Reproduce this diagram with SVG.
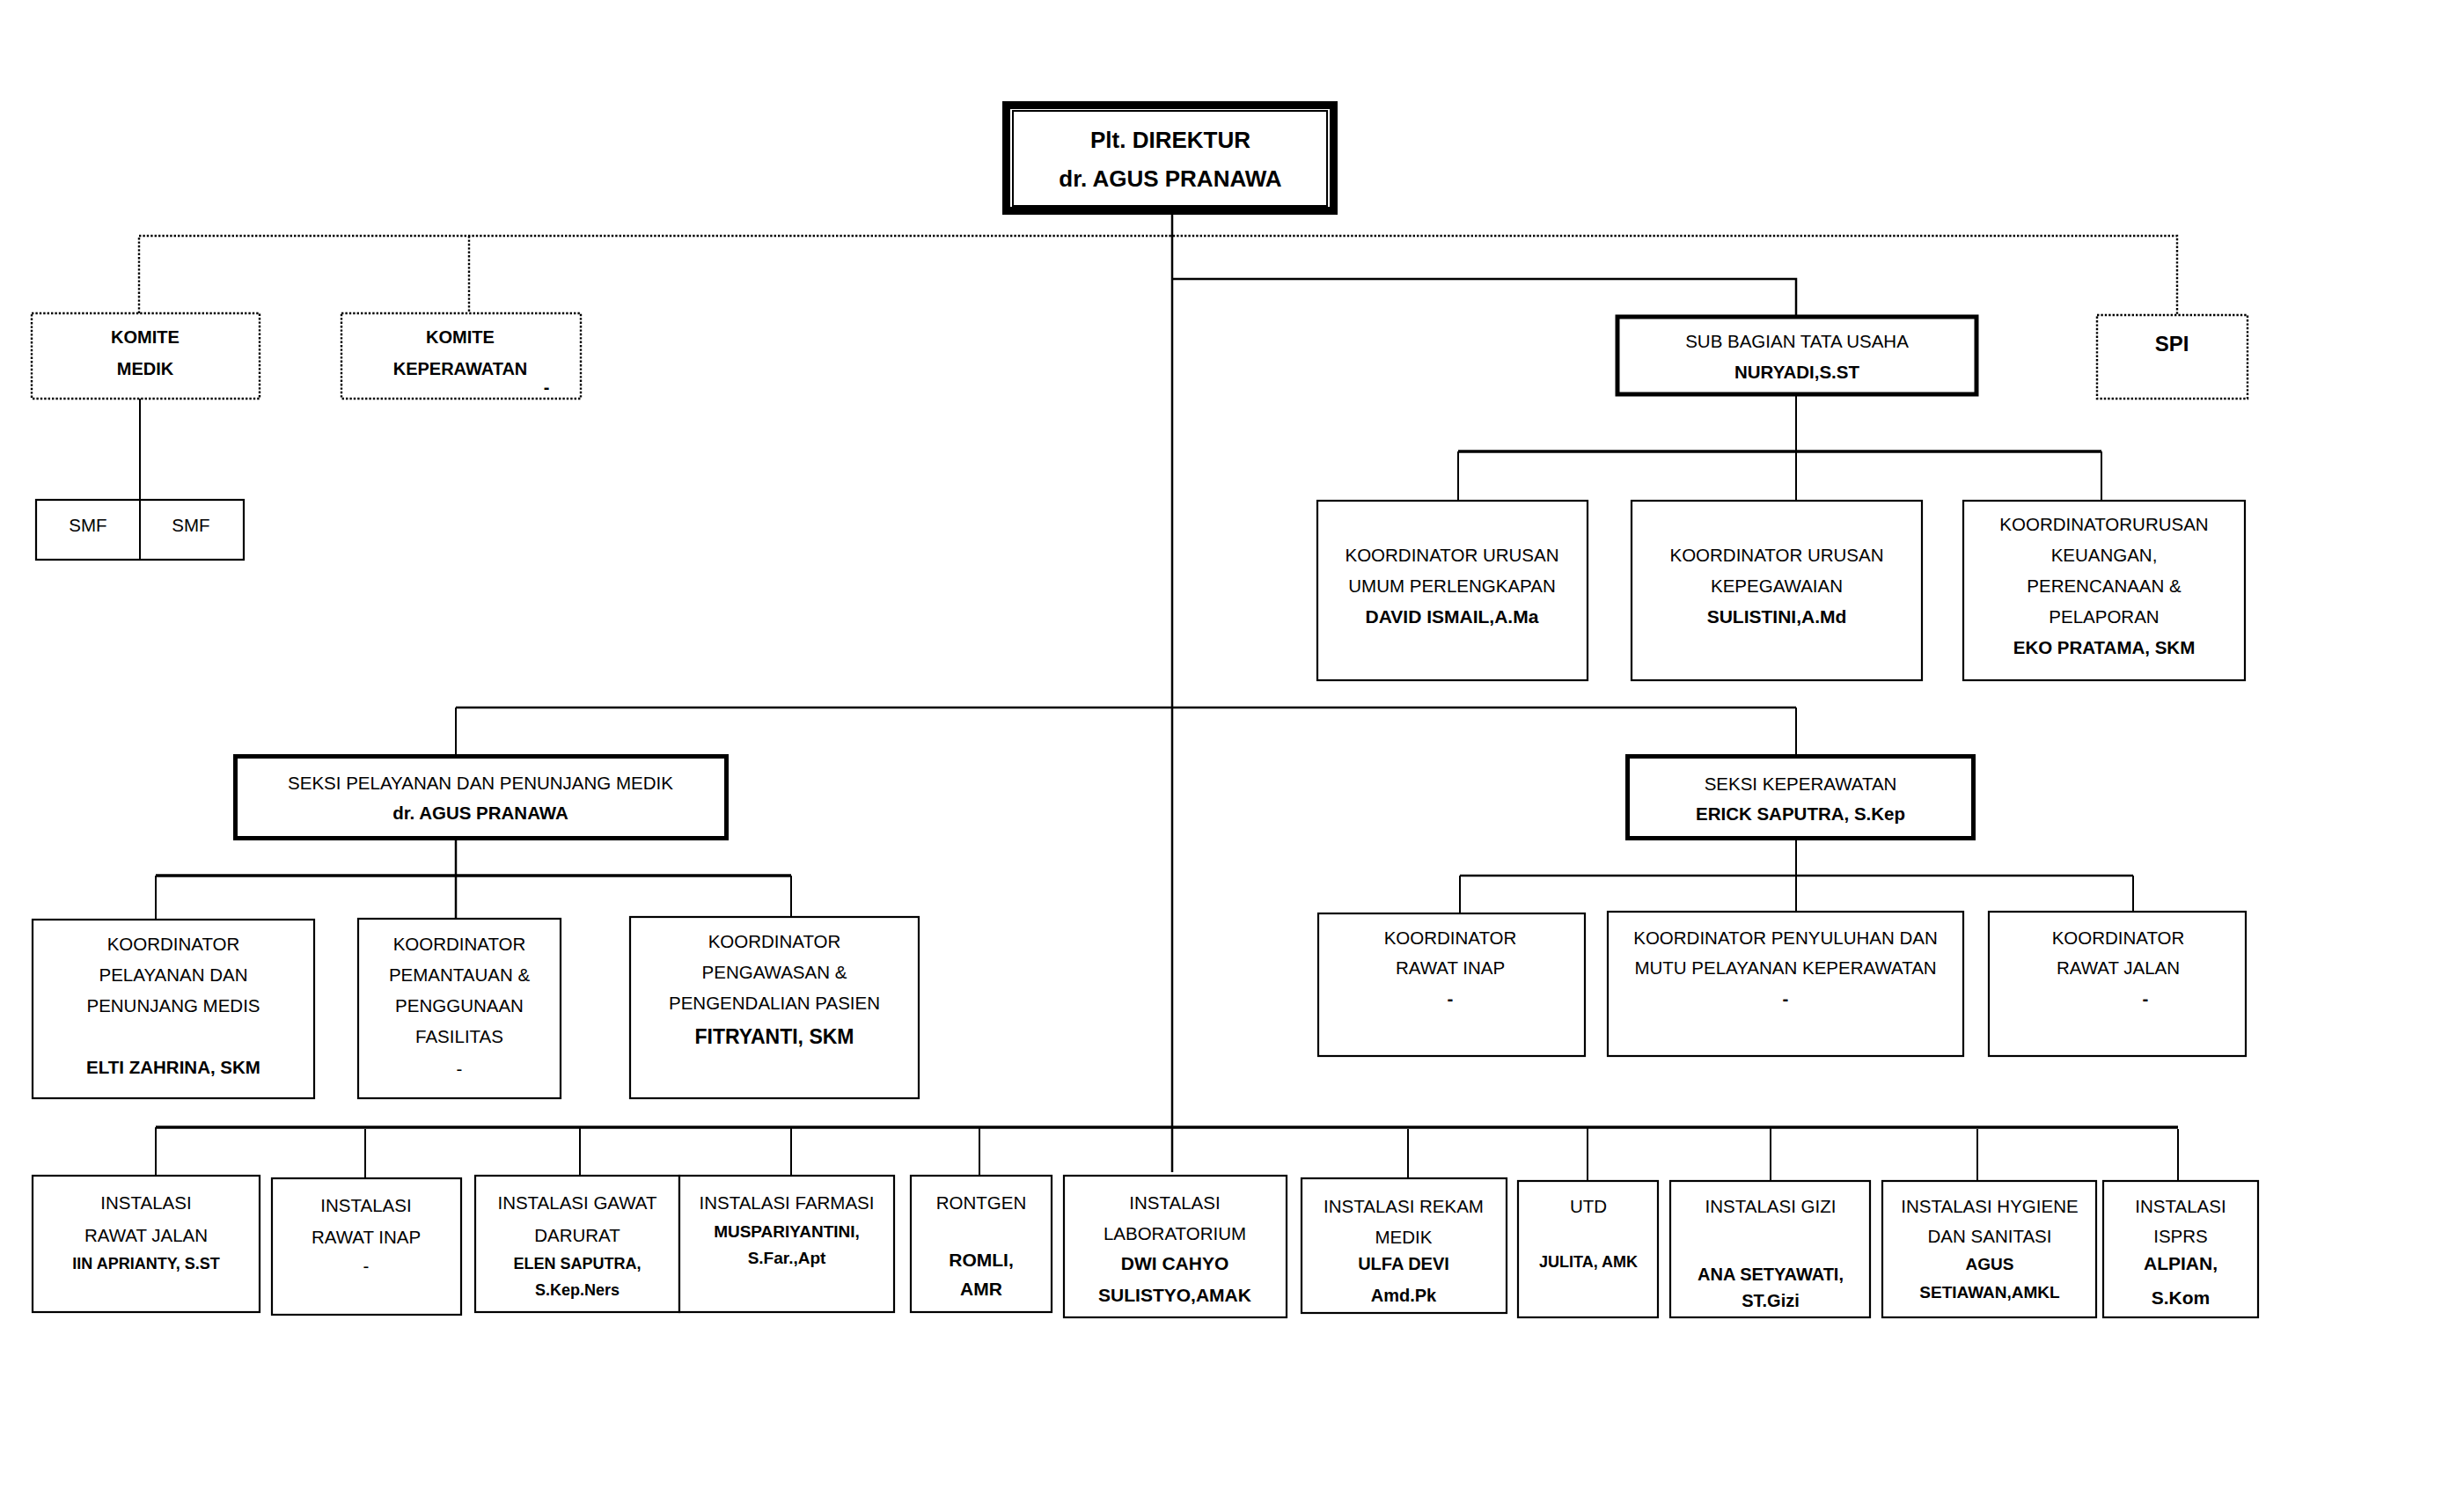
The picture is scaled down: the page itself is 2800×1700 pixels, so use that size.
<svg xmlns="http://www.w3.org/2000/svg" width="2800" height="1700" viewBox="0 0 2800 1700">
<style>
.bg{fill:#fff}
.box{fill:#fff;stroke:#000;stroke-width:2.2}
.thick{fill:#fff;stroke:#000;stroke-width:5}
.dot{fill:#fff;stroke:#000;stroke-width:2.4;stroke-dasharray:2.4 2}
.dline{fill:none;stroke:#000;stroke-width:2.4;stroke-dasharray:2.4 2}
.ln{fill:none;stroke:#000;stroke-width:2}
.ln2{fill:none;stroke:#000;stroke-width:2.5}
.bus{fill:none;stroke:#000;stroke-width:3.5}
text{font-family:"Liberation Sans",Arial,sans-serif;font-size:20.5px;text-anchor:middle;fill:#000}
.b{font-weight:bold}
.s18{font-size:18px}
.s19{font-size:19px}
.s20{font-size:20px}
.s21{font-size:21px}
.s23{font-size:23px}
</style>
<rect class="bg" x="0" y="0" width="2800" height="1700"/>

<g id="connectors">
  <polyline class="dline" points="158,356 158,268 2474,268 2474,358"/>
  <line class="dline" x1="533" y1="268" x2="533" y2="356"/>
  <line class="ln" x1="159" y1="453" x2="159" y2="568"/>
  <line class="ln2" x1="1332" y1="244" x2="1332" y2="1332"/>
  <polyline class="ln2" points="1332,317 2041,317 2041,358"/>
  <line class="ln" x1="2041" y1="450" x2="2041" y2="569"/>
  <line class="bus" x1="1657" y1="513" x2="2388" y2="513"/>
  <line class="ln" x1="1657" y1="513" x2="1657" y2="569"/>
  <line class="ln" x1="2388" y1="513" x2="2388" y2="569"/>
  <line class="ln2" x1="518" y1="804" x2="2041" y2="804"/>
  <line class="ln" x1="518" y1="804" x2="518" y2="858"/>
  <line class="ln" x1="2041" y1="804" x2="2041" y2="858"/>
  <line class="ln2" x1="518" y1="954" x2="518" y2="1044"/>
  <line class="bus" x1="177" y1="995" x2="899" y2="995"/>
  <line class="ln" x1="177" y1="995" x2="177" y2="1045"/>
  <line class="ln" x1="899" y1="995" x2="899" y2="1042"/>
  <line class="ln" x1="2041" y1="955" x2="2041" y2="1036"/>
  <line class="ln2" x1="1659" y1="995" x2="2424" y2="995"/>
  <line class="ln" x1="1659" y1="995" x2="1659" y2="1038"/>
  <line class="ln" x1="2424" y1="995" x2="2424" y2="1036"/>
  <line class="bus" x1="177" y1="1281" x2="2475" y2="1281"/>
  <line class="ln" x1="177" y1="1281" x2="177" y2="1336"/>
  <line class="ln" x1="415" y1="1283" x2="415" y2="1339"/>
  <line class="ln" x1="659" y1="1281" x2="659" y2="1336"/>
  <line class="ln" x1="899" y1="1281" x2="899" y2="1336"/>
  <line class="ln" x1="1113" y1="1281" x2="1113" y2="1336"/>
  <line class="ln" x1="1600" y1="1283" x2="1600" y2="1339"/>
  <line class="ln" x1="1804" y1="1281" x2="1804" y2="1342"/>
  <line class="ln" x1="2012" y1="1281" x2="2012" y2="1342"/>
  <line class="ln" x1="2247" y1="1283" x2="2247" y2="1342"/>
  <line class="ln" x1="2475" y1="1283" x2="2475" y2="1342"/>
</g>

<g id="direktur">
  <rect x="1143.5" y="119.5" width="372" height="120" fill="#fff" stroke="#000" stroke-width="9"/>
  <rect x="1151" y="126" width="357" height="108" fill="none" stroke="#000" stroke-width="2"/>
  <text class="b" x="1330" y="168" style="font-size:26px">Plt. DIREKTUR</text>
  <text class="b" x="1330" y="212" style="font-size:26px">dr. AGUS PRANAWA</text>
</g>

<g id="komite-medik">
  <rect class="dot" x="36" y="356" width="259" height="97"/>
  <text class="b s20" x="165" y="390">KOMITE</text>
  <text class="b s20" x="165" y="426">MEDIK</text>
</g>

<g id="komite-keperawatan">
  <rect class="dot" x="388" y="356" width="272" height="97"/>
  <text class="b s20" x="523" y="390">KOMITE</text>
  <text class="b s20" x="523" y="426">KEPERAWATAN</text>
  <text class="b s20" x="621" y="447">-</text>
</g>

<g id="smf">
  <rect class="box" x="41" y="568" width="236" height="68"/>
  <line class="ln" x1="159" y1="568" x2="159" y2="636"/>
  <text x="100" y="604">SMF</text>
  <text x="217" y="604">SMF</text>
</g>

<g id="spi">
  <rect class="dot" x="2383" y="358" width="171" height="95"/>
  <text class="b" x="2468" y="399" style="font-size:24px">SPI</text>
</g>

<g id="sub-bagian-tu">
  <rect class="thick" x="1838" y="360" width="408" height="88"/>
  <text x="2042" y="395">SUB BAGIAN TATA USAHA</text>
  <text class="b" x="2042" y="430">NURYADI,S.ST</text>
</g>

<g id="koord-umum">
  <rect class="box" x="1497" y="569" width="307" height="204"/>
  <text x="1650" y="638">KOORDINATOR URUSAN</text>
  <text x="1650" y="673">UMUM PERLENGKAPAN</text>
  <text class="b s21" x="1650" y="708">DAVID ISMAIL,A.Ma</text>
</g>

<g id="koord-kepegawaian">
  <rect class="box" x="1854" y="569" width="330" height="204"/>
  <text x="2019" y="638">KOORDINATOR URUSAN</text>
  <text x="2019" y="673">KEPEGAWAIAN</text>
  <text class="b s21" x="2019" y="708">SULISTINI,A.Md</text>
</g>

<g id="koord-keuangan">
  <rect class="box" x="2231" y="569" width="320" height="204"/>
  <text x="2391" y="603">KOORDINATORURUSAN</text>
  <text x="2391" y="638">KEUANGAN,</text>
  <text x="2391" y="673">PERENCANAAN &amp;</text>
  <text x="2391" y="708">PELAPORAN</text>
  <text class="b" x="2391" y="743">EKO PRATAMA, SKM</text>
</g>

<g id="seksi-pelayanan">
  <rect class="thick" x="267.5" y="859.5" width="558" height="93"/>
  <text x="546" y="897">SEKSI PELAYANAN DAN PENUNJANG MEDIK</text>
  <text class="b" x="546" y="931">dr. AGUS PRANAWA</text>
</g>

<g id="seksi-keperawatan">
  <rect class="thick" x="1849.5" y="859.5" width="393" height="93"/>
  <text x="2046" y="898">SEKSI KEPERAWATAN</text>
  <text class="b" x="2046" y="932">ERICK SAPUTRA, S.Kep</text>
</g>

<g id="koord-pelayanan">
  <rect class="box" x="37" y="1045" width="320" height="203"/>
  <text x="197" y="1080">KOORDINATOR</text>
  <text x="197" y="1115">PELAYANAN DAN</text>
  <text x="197" y="1150">PENUNJANG MEDIS</text>
  <text class="b" x="197" y="1220">ELTI ZAHRINA, SKM</text>
</g>

<g id="koord-pemantauan">
  <rect class="box" x="407" y="1044" width="230" height="204"/>
  <text x="522" y="1080">KOORDINATOR</text>
  <text x="522" y="1115">PEMANTAUAN &amp;</text>
  <text x="522" y="1150">PENGGUNAAN</text>
  <text x="522" y="1185">FASILITAS</text>
  <text x="522" y="1222">-</text>
</g>

<g id="koord-pengawasan">
  <rect class="box" x="716" y="1042" width="328" height="206"/>
  <text x="880" y="1077">KOORDINATOR</text>
  <text x="880" y="1112">PENGAWASAN &amp;</text>
  <text x="880" y="1147">PENGENDALIAN PASIEN</text>
  <text class="b s23" x="880" y="1186">FITRYANTI, SKM</text>
</g>

<g id="koord-rawat-inap">
  <rect class="box" x="1498" y="1038" width="303" height="162"/>
  <text x="1648" y="1073">KOORDINATOR</text>
  <text x="1648" y="1107">RAWAT INAP</text>
  <text class="b" x="1648" y="1142">-</text>
</g>

<g id="koord-penyuluhan">
  <rect class="box" x="1827" y="1036" width="404" height="164"/>
  <text x="2029" y="1073">KOORDINATOR PENYULUHAN DAN</text>
  <text x="2029" y="1107">MUTU PELAYANAN KEPERAWATAN</text>
  <text class="b" x="2029" y="1142">-</text>
</g>

<g id="koord-rawat-jalan">
  <rect class="box" x="2260" y="1036" width="292" height="164"/>
  <text x="2407" y="1073">KOORDINATOR</text>
  <text x="2407" y="1107">RAWAT JALAN</text>
  <text class="b" x="2438" y="1142">-</text>
</g>

<g id="inst-rawat-jalan">
  <rect class="box" x="37" y="1336" width="258" height="155"/>
  <text x="166" y="1374">INSTALASI</text>
  <text x="166" y="1411">RAWAT JALAN</text>
  <text class="b s18" x="166" y="1442">IIN APRIANTY, S.ST</text>
</g>

<g id="inst-rawat-inap">
  <rect class="box" x="309" y="1339" width="215" height="155"/>
  <text x="416" y="1377">INSTALASI</text>
  <text x="416" y="1413">RAWAT INAP</text>
  <text x="416" y="1446">-</text>
</g>

<g id="inst-gawat-darurat">
  <rect class="box" x="540" y="1336" width="232" height="155"/>
  <text x="656" y="1374">INSTALASI GAWAT</text>
  <text x="656" y="1411">DARURAT</text>
  <text class="b s18" x="656" y="1442">ELEN SAPUTRA,</text>
  <text class="b s18" x="656" y="1472">S.Kep.Ners</text>
</g>

<g id="inst-farmasi">
  <rect class="box" x="772" y="1336" width="244" height="155"/>
  <text x="894" y="1374">INSTALASI FARMASI</text>
  <text class="b s19" x="894" y="1406">MUSPARIYANTINI,</text>
  <text class="b s19" x="894" y="1436">S.Far.,Apt</text>
</g>

<g id="rontgen">
  <rect class="box" x="1035" y="1336" width="160" height="155"/>
  <text x="1115" y="1374">RONTGEN</text>
  <text class="b s21" x="1115" y="1439">ROMLI,</text>
  <text class="b s21" x="1115" y="1472">AMR</text>
</g>

<g id="inst-laboratorium">
  <rect class="box" x="1209" y="1336" width="253" height="161"/>
  <text x="1335" y="1374">INSTALASI</text>
  <text x="1335" y="1409">LABORATORIUM</text>
  <text class="b s21" x="1335" y="1443">DWI CAHYO</text>
  <text class="b s21" x="1335" y="1479">SULISTYO,AMAK</text>
</g>

<g id="inst-rekam-medik">
  <rect class="box" x="1479" y="1339" width="233" height="153"/>
  <text x="1595" y="1378">INSTALASI REKAM</text>
  <text x="1595" y="1413">MEDIK</text>
  <text class="b s20" x="1595" y="1443">ULFA DEVI</text>
  <text class="b s20" x="1595" y="1479">Amd.Pk</text>
</g>

<g id="utd">
  <rect class="box" x="1725" y="1342" width="159" height="155"/>
  <text x="1805" y="1378">UTD</text>
  <text class="b s18" x="1805" y="1440">JULITA, AMK</text>
</g>

<g id="inst-gizi">
  <rect class="box" x="1898" y="1342" width="227" height="155"/>
  <text x="2012" y="1378">INSTALASI GIZI</text>
  <text class="b s20" x="2012" y="1455">ANA SETYAWATI,</text>
  <text class="b s20" x="2012" y="1485">ST.Gizi</text>
</g>

<g id="inst-hygiene">
  <rect class="box" x="2139" y="1342" width="243" height="155"/>
  <text x="2261" y="1378">INSTALASI HYGIENE</text>
  <text x="2261" y="1412">DAN SANITASI</text>
  <text class="b s19" x="2261" y="1443">AGUS</text>
  <text class="b s19" x="2261" y="1475">SETIAWAN,AMKL</text>
</g>

<g id="inst-isprs">
  <rect class="box" x="2390" y="1342" width="176" height="155"/>
  <text x="2478" y="1378">INSTALASI</text>
  <text x="2478" y="1412">ISPRS</text>
  <text class="b s21" x="2478" y="1443">ALPIAN,</text>
  <text class="b s21" x="2478" y="1482">S.Kom</text>
</g>
</svg>
